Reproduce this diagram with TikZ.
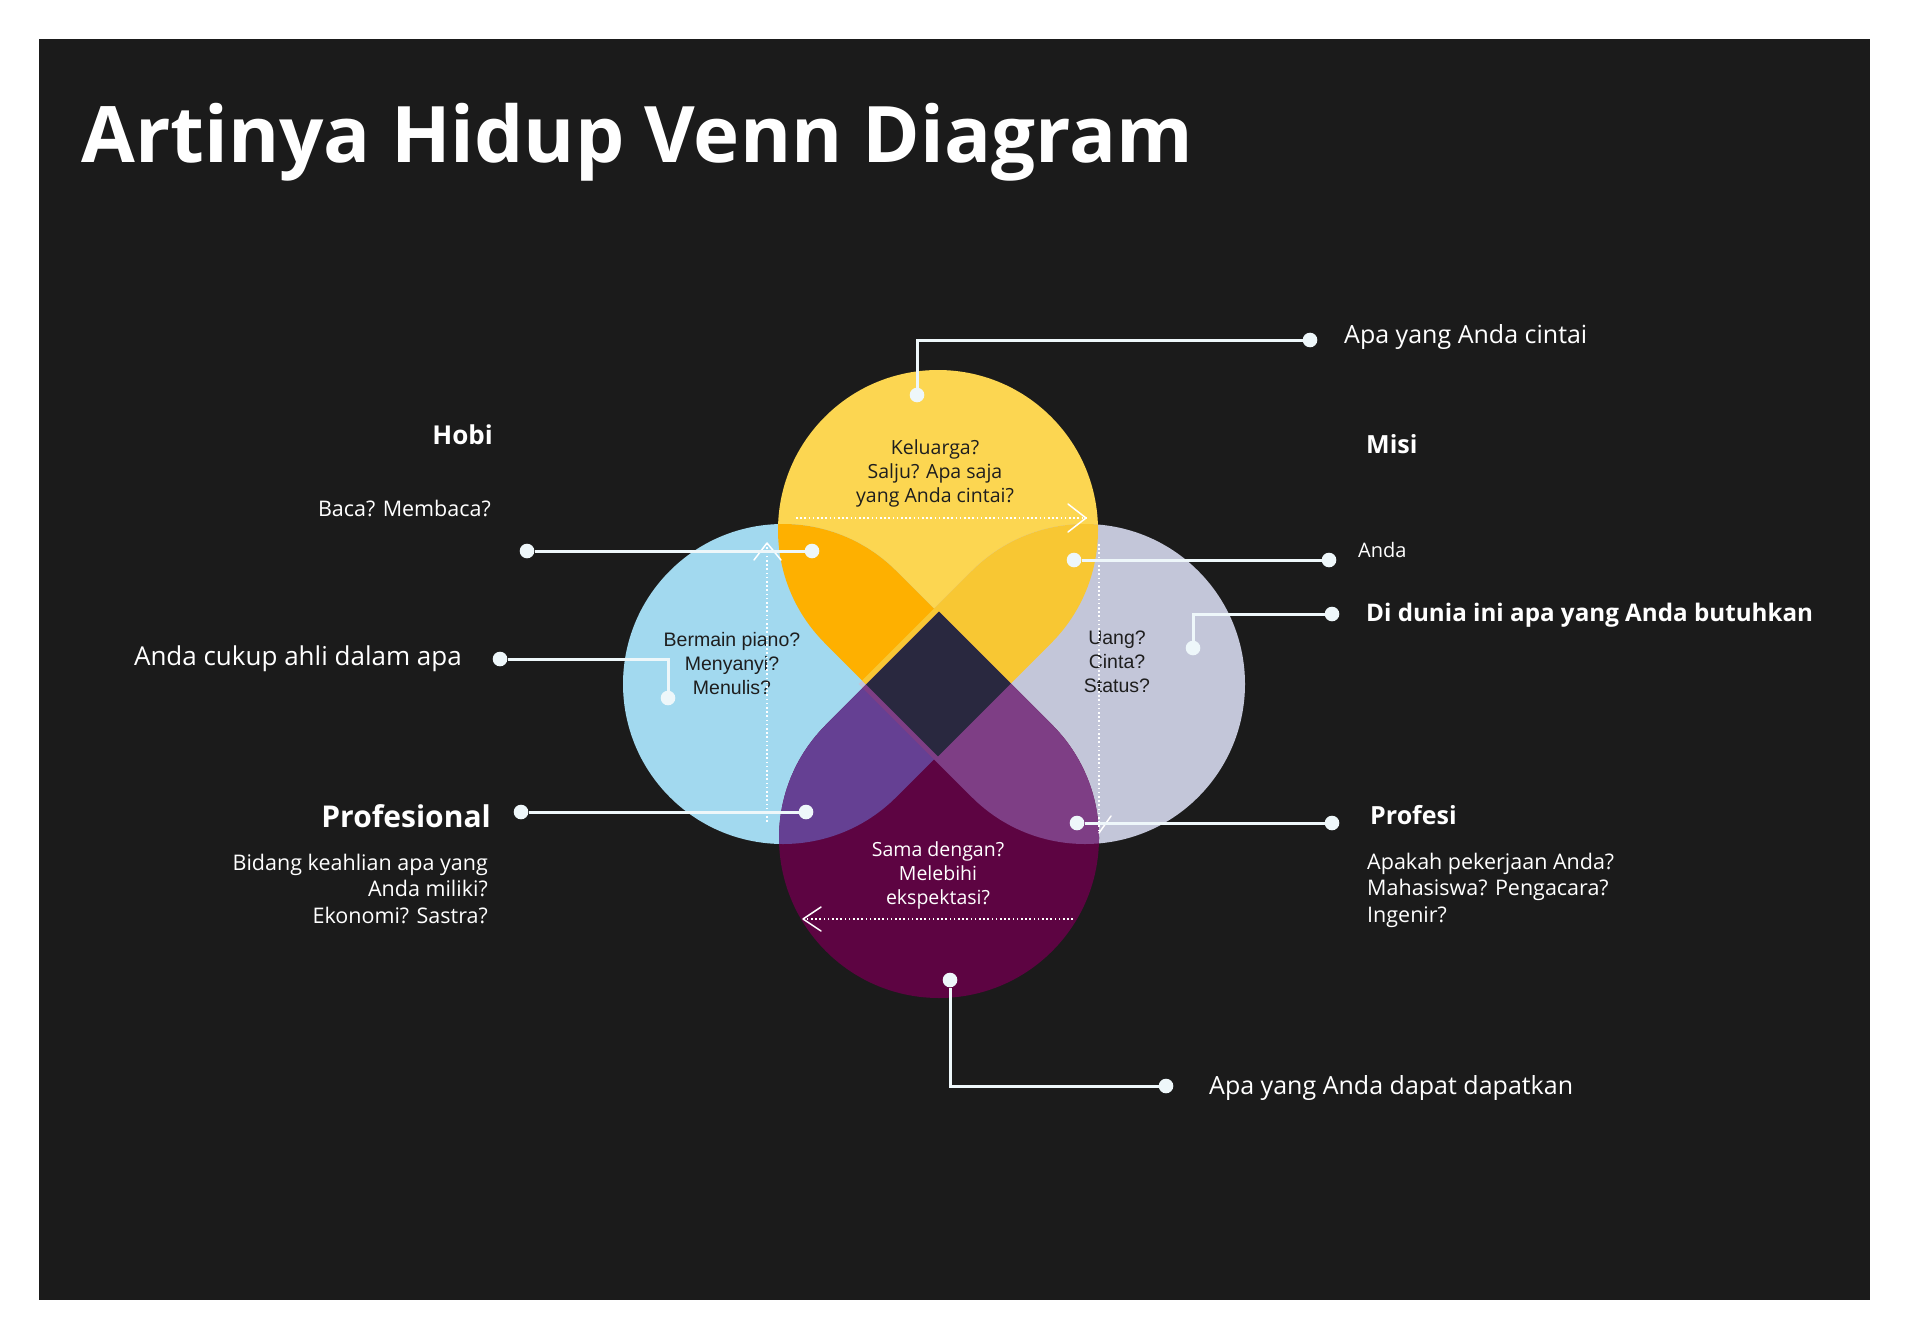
\documentclass[tikz,border=0pt]{standalone}
\usepackage{fontspec}
\setmainfont{Open Sans}
\newfontfamily\arialfont{Liberation Sans}
\usetikzlibrary{calc}
\definecolor{bgdark}{HTML}{1B1B1B}
\definecolor{cyel}{HTML}{FCD651}
\definecolor{corange}{HTML}{FEB000}
\definecolor{cyelgray}{HTML}{F8C733}
\definecolor{cblue}{HTML}{A2D9EF}
\definecolor{cgray}{HTML}{C3C6D9}
\definecolor{cpur}{HTML}{5D0442}
\definecolor{cbluepur}{HTML}{654093}
\definecolor{cgraypur}{HTML}{7E3E85}
\definecolor{ccenter}{HTML}{29283F}
\definecolor{clinew}{HTML}{EEF7FA}
\definecolor{cink}{HTML}{1E1E1E}
\tikzset{
  teardrop/.style n args={3}{insert path={($(#1,#2)+(#3:226.3)$) -- ($(#1,#2)+(#3-45:160)$) arc[start angle=#3-45, end angle=#3-315, radius=160] -- cycle}},
  conn/.style={draw=clinew, line width=3pt},
  endpt/.style={circle, fill=clinew, inner sep=0pt, minimum size=14.6pt},
  flowline/.style={draw=white, line width=1.6pt, dash pattern=on 1.6pt off 2.6pt},
  flowhead/.style={draw=white, line width=1.5pt, line cap=round, line join=round},
  lbl/.style={inner sep=0pt, text=white},
  inner/.style={inner sep=0pt, text=cink},
}
\newcommand\fsTitle{\fontsize{78}{92}\selectfont\bfseries}
\newcommand\fsHead{\fontsize{25}{30}\selectfont\bfseries}
\newcommand\fsBig{\fontsize{25}{30}\selectfont}
\newcommand\fsBody{\fontsize{21.5}{26.6}\selectfont}
\newcommand\fsInner{\fontsize{19.5}{24}\selectfont}
\begin{document}
\begin{tikzpicture}[x=1pt,y=-1pt]
\useasboundingbox (0,0) rectangle (1905,1335);
\fill[white] (0,0) rectangle (1905,1335);
\fill[bgdark] (39,39) rectangle (1870,1300);

% title
\node[lbl, anchor=base west, font=\fsTitle] (title) at (81,162) {Artinya Hidup Venn Diagram};

% petals
\fill[cyel, teardrop={938}{530}{90}];
\fill[cblue, teardrop={783}{684}{0}];
\fill[cgray, teardrop={1085}{684}{180}];
\fill[cpur, teardrop={939}{838}{-90}];
\begin{scope}
  \clip[teardrop={938}{530}{90}];
  \fill[corange, teardrop={783}{684}{0}];
  \fill[cyelgray, teardrop={1085}{684}{180}];
\end{scope}
\begin{scope}
  \clip[teardrop={939}{838}{-90}];
  \fill[cbluepur, teardrop={783}{684}{0}];
  \fill[cgraypur, teardrop={1085}{684}{180}];
\end{scope}
\begin{scope}
  \clip[teardrop={938}{530}{90}];
  \fill[ccenter, teardrop={939}{838}{-90}];
\end{scope}

% inner texts
\node[inner, anchor=base, font=\fsInner] (tyel) at (935,454)
  {\begin{tabular}[t]{@{}c@{}}Keluarga?\\Salju? Apa saja\\yang Anda cintai?\end{tabular}};
\node[inner, anchor=base, font=\fsInner\arialfont] (tblue) at (732,646)
  {\begin{tabular}[t]{@{}c@{}}Bermain piano?\\Menyanyi?\\Menulis?\end{tabular}};
\node[inner, anchor=base, font=\fsInner\arialfont] (tgray) at (1117,644)
  {\begin{tabular}[t]{@{}c@{}}Uang?\\Cinta?\\Status?\end{tabular}};
\node[lbl, anchor=base, font=\fsInner] (tpur) at (938,856)
  {\begin{tabular}[t]{@{}c@{}}Sama dengan?\\Melebihi\\ekspektasi?\end{tabular}};

% flow arrows
\coordinate (fa1) at (796,518); \coordinate (fa2) at (1086,518);
\coordinate (fb1) at (1099,544); \coordinate (fb2) at (1099,833);
\coordinate (fc1) at (1073,919); \coordinate (fc2) at (803,919);
\coordinate (fd1) at (767,822); \coordinate (fd2) at (767,543);
\draw[flowline] (fa1) -- (fa2);
\draw[flowhead] (1068,504) -- (fa2) -- (1068,532);
\draw[flowline] (fb1) -- (fb2);
\draw[flowhead] (1111,816) -- (fb2);
\draw[flowline] (fc1) -- (fc2);
\draw[flowhead] (821,907) -- (fc2) -- (821,931);
\draw[flowline] (fd1) -- (fd2);
\draw[flowhead] (754,560) -- (fd2) -- (781,560);

% connector dots
\node[endpt] (d1a) at (917,395) {};
\node[endpt] (d1b) at (1310,340) {};
\node[endpt] (d2a) at (1074,560) {};
\node[endpt] (d2b) at (1329,560) {};
\node[endpt] (d3a) at (1193,648) {};
\node[endpt] (d3b) at (1332,614) {};
\node[endpt] (d4a) at (1077,823) {};
\node[endpt] (d4b) at (1332,823) {};
\node[endpt] (d5a) at (950,980) {};
\node[endpt] (d5b) at (1166,1086) {};
\node[endpt] (d6a) at (806,812) {};
\node[endpt] (d6b) at (521,812) {};
\node[endpt] (d7a) at (668,698) {};
\node[endpt] (d7b) at (500,659) {};
\node[endpt] (d8a) at (812,551) {};
\node[endpt] (d8b) at (527,551) {};

\draw[conn] (d1a) |- (d1b);
\draw[conn] (d2a) -- (d2b);
\draw[conn] (d3a) |- (d3b);
\draw[conn] (d4a) -- (d4b);
\draw[conn] (d5a) |- (d5b);
\draw[conn] (d6a) -- (d6b);
\draw[conn] (d7a) |- (d7b);
\draw[conn] (d8a) -- (d8b);

% right labels
\node[lbl, anchor=base west, font=\fsBig] (love) at (1344,343) {Apa yang Anda cintai};
\node[lbl, anchor=base west, font=\fsHead] (misi) at (1366,453) {Misi};
\node[lbl, anchor=base west, font=\fontsize{20}{24}\selectfont] (anda) at (1358,557) {Anda};
\node[lbl, anchor=base west, font=\fontsize{24.2}{29}\selectfont\bfseries] (need) at (1366,621) {Di dunia ini apa yang Anda butuhkan};
\node[lbl, anchor=base west, font=\fsHead] (profesi) at (1370,824) {Profesi};
\node[lbl, anchor=base west, font=\fsBody] (profesisub) at (1367,869)
  {\begin{tabular}[t]{@{}l@{}}Apakah pekerjaan Anda?\\Mahasiswa? Pengacara?\\Ingenir?\end{tabular}};
\node[lbl, anchor=base west, font=\fsBig] (earn) at (1209,1094) {Apa yang Anda dapat dapatkan};

% left labels
\node[lbl, anchor=base east, font=\fontsize{26}{31}\selectfont\bfseries] (hobi) at (493,444) {Hobi};
\node[lbl, anchor=base east, font=\fsBody] (baca) at (491,516) {Baca? Membaca?};
\node[lbl, anchor=base east, font=\fontsize{26}{31}\selectfont] (ahli) at (462,665) {Anda cukup ahli dalam apa};
\node[lbl, anchor=base east, font=\fontsize{30}{36}\selectfont\bfseries] (prof) at (491,827) {Profesional};
\node[lbl, anchor=base east, font=\fsBody] (profsub) at (488,870)
  {\begin{tabular}[t]{@{}r@{}}Bidang keahlian apa yang\\Anda miliki?\\Ekonomi? Sastra?\end{tabular}};
\end{tikzpicture}
\end{document}
